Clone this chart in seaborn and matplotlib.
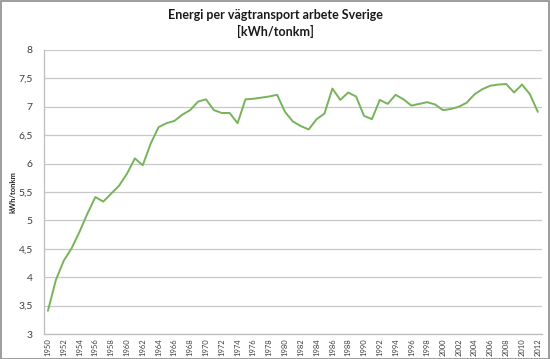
import matplotlib
matplotlib.use("Agg")
import matplotlib.pyplot as plt
import seaborn as sns
import pandas as pd
from matplotlib.ticker import FuncFormatter, MultipleLocator
from matplotlib.patches import Rectangle

years = list(range(1950, 2013))
values = [3.41, 3.95, 4.29, 4.51, 4.80, 5.12, 5.41, 5.33, 5.47, 5.61,
          5.82, 6.09, 5.97, 6.35, 6.64, 6.71, 6.75, 6.86, 6.94, 7.09,
          7.13, 6.94, 6.89, 6.89, 6.71, 7.13, 7.14, 7.16, 7.18, 7.21,
          6.91, 6.74, 6.66, 6.60, 6.78, 6.88, 7.32, 7.12, 7.25, 7.18,
          6.84, 6.78, 7.12, 7.05, 7.21, 7.13, 7.02, 7.05, 7.08, 7.04,
          6.94, 6.96, 7.00, 7.07, 7.22, 7.31, 7.37, 7.39, 7.40, 7.25,
          7.39, 7.22, 6.91]
title = "Energi per vägtransport arbete Sverige\n[kWh/tonkm]"
ylabel = "kWh/tonkm"

df = pd.DataFrame({"year": years, "value": values})

sns.set_theme(style="white")
plt.rcParams['font.family'] = ['Lato', 'DejaVu Sans']

fig = plt.figure(figsize=(5.5, 3.59), dpi=100)
ax = fig.add_axes([0.08, 0.0696, 0.905, 0.7914])
sns.lineplot(data=df, x="year", y="value", ax=ax, color="#77b35a", linewidth=1.4)

ax.set_xlim(1949.5, 2012.5)
ax.set_ylim(3, 8)
ax.yaxis.set_major_locator(MultipleLocator(0.5))
ax.yaxis.set_major_formatter(FuncFormatter(lambda v, p: f"{v:g}".replace(".", ",")))
ax.set_xticks(years[::2])
ax.set_xticklabels([str(y) for y in years[::2]], rotation=90, fontsize=5.5, color="#404040")
ax.tick_params(axis="y", labelsize=7.5, labelcolor="#404040", length=0, pad=8)
ax.tick_params(axis="x", length=0, pad=3)
ax.grid(axis="y", color="#c8c8c8", linewidth=0.9)
ax.grid(axis="x", visible=False)
for s in ["top", "right"]:
    ax.spines[s].set_visible(False)
for s in ["left", "bottom"]:
    ax.spines[s].set_color("#bdbdbd")
    ax.spines[s].set_linewidth(0.9)
ax.set_xlabel("")
ax.set_ylabel(ylabel, fontsize=5.5, fontweight="bold", labelpad=6)
ax.yaxis.set_label_coords(-0.055, 0.5)

fig.text(0.5, 0.975, title, ha="center", va="top", fontsize=9, fontweight="bold",
         color="#1a1a1a", linespacing=1.35)
fig.patches.append(Rectangle((0.001, 0.001), 0.997, 0.996, transform=fig.transFigure,
                             fill=False, edgecolor="#8c8c8c", linewidth=1.2))

fig.savefig("out.png", dpi=100)
